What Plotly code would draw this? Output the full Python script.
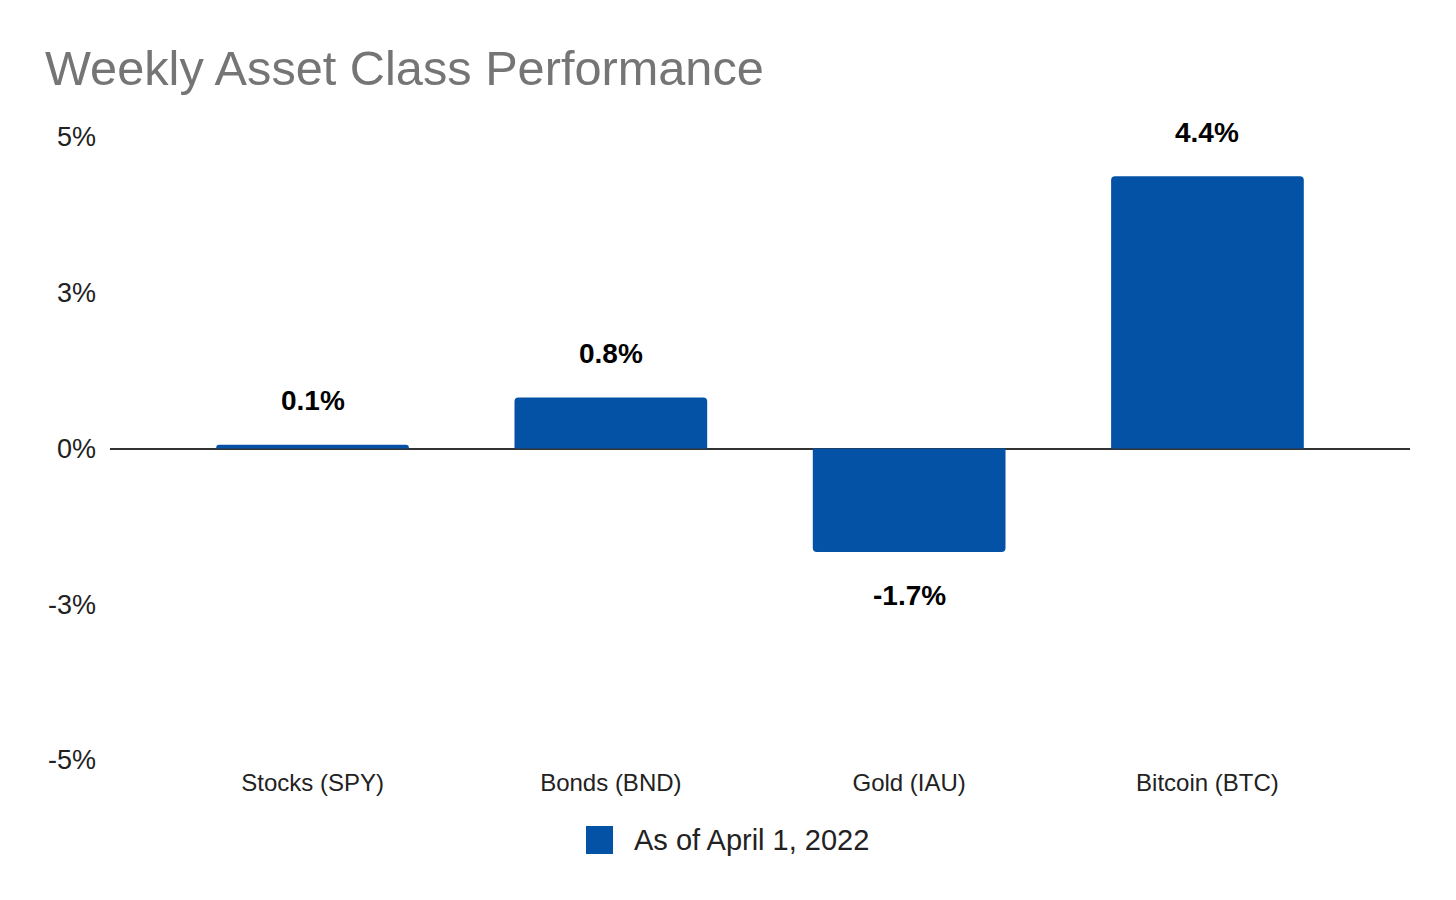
import plotly.graph_objects as go

categories = ["Stocks (SPY)", "Bonds (BND)", "Gold (IAU)", "Bitcoin (BTC)"]
values = [0.06, 0.82, -1.66, 4.37]
series_name = "As of April 1, 2022"
tick_vals = [-5, -2.5, 0, 2.5, 5]
tick_text = ["-5%", "-3%", "0%", "3%", "5%"]
title_text = "Weekly Asset Class Performance"

BLUE = "#0452A6"
FONT = "Arial, Liberation Sans, sans-serif"

fig = go.Figure()
fig.add_trace(go.Bar(
    x=categories, y=values, name=series_name,
    marker=dict(color=BLUE, cornerradius=4, line=dict(width=0)),
    width=0.646, showlegend=False,
))

for c, v in zip(categories, values):
    fig.add_annotation(
        x=c, y=v, text=f"<b>{v:.1f}%</b>", showarrow=False,
        yshift=44 if v >= 0 else -44, yanchor="middle",
        font=dict(family=FONT, size=28, color="#000000"),
    )

# legend (drawn manually to match large square swatch)
fig.add_shape(type="rect", xref="paper", yref="paper",
              x0=(586 - 110) / 1300, x1=(613 - 110) / 1300,
              y0=(760 - 854) / 623, y1=(760 - 826) / 623,
              fillcolor=BLUE, line=dict(width=0))
fig.add_annotation(xref="paper", yref="paper",
                   x=(632 - 110) / 1300, y=(760 - 840) / 623,
                   xanchor="left", yanchor="middle", showarrow=False,
                   text=series_name,
                   font=dict(family=FONT, size=29, color="#222222"))

fig.update_layout(
    width=1456, height=900,
    margin=dict(l=102, r=54, t=129, b=148),
    paper_bgcolor="white", plot_bgcolor="white",
    font=dict(family=FONT, color="#222222"),
    title=dict(text=title_text, x=37 / 1456, xanchor="left", xref="container",
               y=1 - 60 / 900, yanchor="middle", yref="container",
               font=dict(family=FONT, size=48.7, color="#757575")),
    bargap=0.35,
    xaxis=dict(range=[-0.679, 3.679], showgrid=False, showline=False,
               zeroline=False, ticks="", ticklabelstandoff=6,
               tickfont=dict(family=FONT, size=24, color="#222222")),
    yaxis=dict(range=[-5, 5], tickvals=tick_vals, ticktext=tick_text,
               showgrid=False, showline=False, zeroline=True,
               zerolinecolor="#333333", zerolinewidth=2, ticks="",
               ticklabelstandoff=13,
               tickfont=dict(family=FONT, size=27, color="#222222")),
)

fig.write_html("out.html")
